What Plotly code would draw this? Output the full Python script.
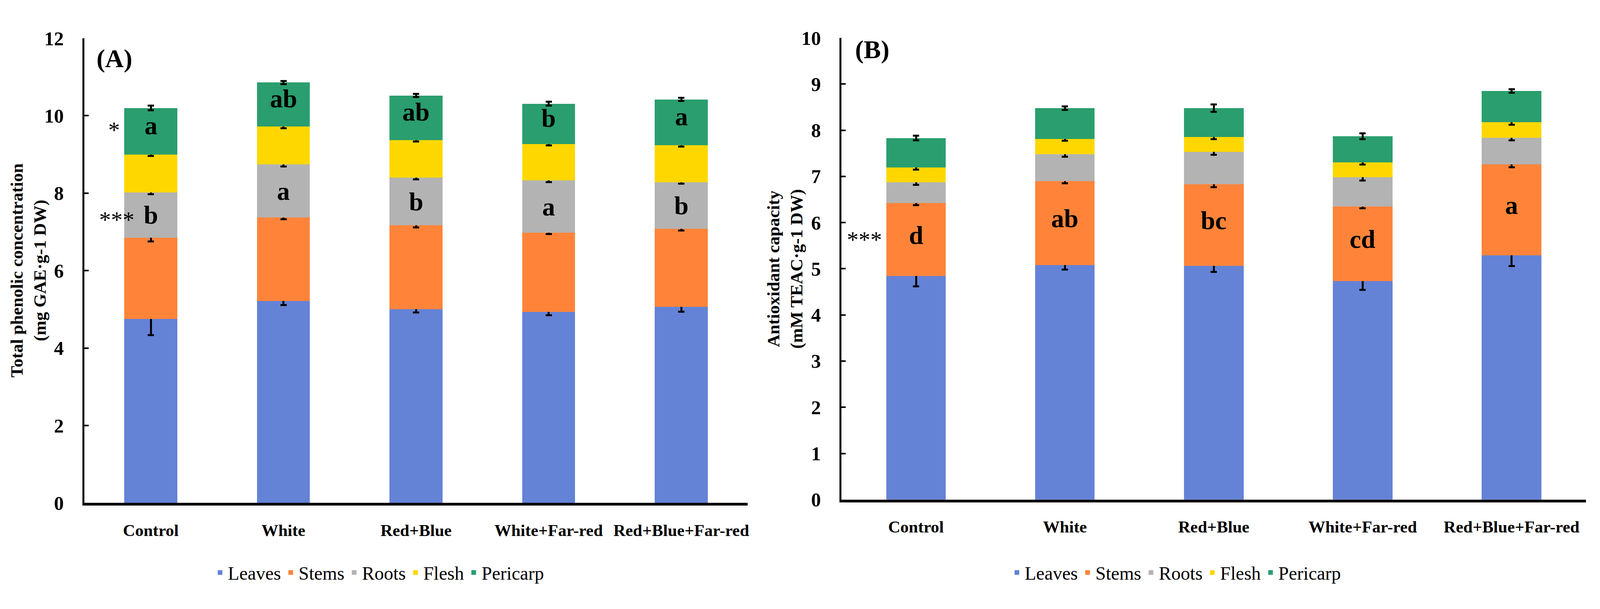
import numpy as np
import plotly.graph_objects as go

# ---- data ----
categories = ["Control", "White", "Red+Blue", "White+Far-red", "Red+Blue+Far-red"]
tissues = ["Leaves", "Stems", "Roots", "Flesh", "Pericarp"]

# (A) total phenolic concentration, mg GAE·g-1 DW (segment heights)
leaves_a = [4.75, 5.22, 5.00, 4.93, 5.06]
stems_a = [2.10, 2.15, 2.17, 2.05, 2.02]
roots_a = [1.17, 1.37, 1.23, 1.35, 1.20]
flesh_a = [0.98, 0.98, 0.97, 0.94, 0.96]
pericarp_a = [1.20, 1.14, 1.15, 1.04, 1.18]

err_leaves_a = [0.42, 0.11, 0.08, 0.08, 0.12]
err_stems_a = [0.10, 0.04, 0.05, 0.04, 0.04]
err_roots_a = [0.05, 0.05, 0.04, 0.04, 0.04]
err_flesh_a = [0.04, 0.04, 0.04, 0.04, 0.04]
err_pericarp_a = [0.06, 0.04, 0.04, 0.05, 0.04]

letters_roots_a = ["b", "a", "b", "a", "b"]
letters_pericarp_a = ["a", "ab", "ab", "b", "a"]

# (B) antioxidant capacity, mM TEAC·g-1 DW
leaves_b = [4.84, 5.08, 5.06, 4.73, 5.29]
stems_b = [1.58, 1.82, 1.77, 1.62, 1.97]
roots_b = [0.45, 0.58, 0.70, 0.63, 0.58]
flesh_b = [0.32, 0.33, 0.32, 0.32, 0.33]
pericarp_b = [0.64, 0.67, 0.63, 0.57, 0.68]

err_leaves_b = [0.22, 0.10, 0.13, 0.19, 0.23]
err_stems_b = [0.04, 0.05, 0.06, 0.04, 0.06]
err_roots_b = [0.05, 0.05, 0.06, 0.07, 0.06]
err_flesh_b = [0.04, 0.04, 0.04, 0.04, 0.05]
err_pericarp_b = [0.05, 0.04, 0.08, 0.06, 0.04]

letters_stems_b = ["d", "ab", "bc", "cd", "a"]

COLORS = ["#6482D6", "#FF8439", "#B3B3B3", "#FFD700", "#2A9E6E"]
SERIF = "Liberation Serif, Times New Roman, serif"

# reference frame used to place things (fractions of the page)
W, H = 4284, 1560

fig = go.Figure()


def add_stack(values, errors, xa, ya, legend):
    for name, vals, errs, color in zip(tissues, values, errors, COLORS):
        fig.add_trace(go.Bar(
            x=categories, y=vals, name=name, xaxis=xa, yaxis=ya, legend=legend,
            marker=dict(color=color, line=dict(width=0)),
            error_y=dict(type="data", array=errs, visible=True,
                         color="black", thickness=5, width=8),
        ))


add_stack([leaves_a, stems_a, roots_a, flesh_a, pericarp_a],
          [err_leaves_a, err_stems_a, err_roots_a, err_flesh_a, err_pericarp_a],
          "x", "y", "legend")
add_stack([leaves_b, stems_b, roots_b, flesh_b, pericarp_b],
          [err_leaves_b, err_stems_b, err_roots_b, err_flesh_b, err_pericarp_b],
          "x2", "y2", "legend2")

# segment midpoints for the significance letters
cum_a = np.cumsum([leaves_a, stems_a, roots_a, flesh_a, pericarp_a], axis=0)
cum_b = np.cumsum([leaves_b, stems_b, roots_b, flesh_b, pericarp_b], axis=0)
mid_roots_a = cum_a[2] - np.array(roots_a) / 2
mid_peri_a = cum_a[4] - np.array(pericarp_a) / 2 + 0.15
mid_stems_b = cum_b[1] - np.array(stems_b) / 2 + 0.1

LETTER_FONT = dict(family=SERIF, size=66, color="black", weight="bold")
STAR_FONT = dict(family=SERIF, size=60, color="black")

for cat, t, y in zip(categories, letters_roots_a, mid_roots_a):
    fig.add_annotation(x=cat, y=y, xref="x", yref="y", text=t, showarrow=False, font=LETTER_FONT)
for cat, t, y in zip(categories, letters_pericarp_a, mid_peri_a):
    fig.add_annotation(x=cat, y=y, xref="x", yref="y", text=t, showarrow=False, font=LETTER_FONT)
for cat, t, y in zip(categories, letters_stems_b, mid_stems_b):
    fig.add_annotation(x=cat, y=y, xref="x2", yref="y2", text=t, showarrow=False, font=LETTER_FONT)

# asterisks left of the Control bar
fig.add_annotation(x=categories[0], y=mid_peri_a[0], xref="x", yref="y", text="*",
                   showarrow=False, xshift=-94, yshift=-12, font=STAR_FONT)
fig.add_annotation(x=categories[0], y=mid_roots_a[0], xref="x", yref="y", text="***",
                   showarrow=False, xshift=-87, yshift=-12, font=STAR_FONT)
fig.add_annotation(x=categories[0], y=mid_stems_b[0], xref="x2", yref="y2", text="***",
                   showarrow=False, xshift=-132, yshift=-12, font=STAR_FONT)

# panel labels and y titles
TITLE_FONT = dict(family=SERIF, size=45, color="black", weight="bold")
PANEL_FONT = dict(family=SERIF, size=66, color="black", weight="bold")
fig.add_annotation(x=249 / W, y=1 - 79 / H, xref="paper", yref="paper", text="(A)",
                   showarrow=False, xanchor="left", font=PANEL_FONT)
fig.add_annotation(x=2290 / W, y=1 - 54 / H, xref="paper", yref="paper", text="(B)",
                   showarrow=False, xanchor="left", font=PANEL_FONT)
fig.add_annotation(x=68 / W, y=1 - 689 / H, xref="paper", yref="paper",
                   text="Total phenolic concentration<br>(mg GAE·g-1 DW)", textangle=-90,
                   showarrow=False, xanchor="center", yanchor="middle", font=TITLE_FONT)
fig.add_annotation(x=2104 / W, y=1 - 684 / H, xref="paper", yref="paper",
                   text="Antioxidant capacity<br>(mM TEAC·g-1 DW)", textangle=-90,
                   showarrow=False, xanchor="center", yanchor="middle", font=TITLE_FONT)

XAXIS = dict(type="category", showline=True, linewidth=7, linecolor="black", ticks="",
             showgrid=False, zeroline=False, ticklabelstandoff=26,
             tickfont=dict(family=SERIF, size=43, color="black", weight="bold"))
YAXIS = dict(showline=True, linewidth=5, linecolor="black", ticks="inside", ticklen=11,
             tickwidth=4, tickcolor="black", showgrid=False, zeroline=False,
             ticklabelstandoff=38,
             tickfont=dict(family=SERIF, size=50, color="black", weight="bold"))

LEGEND = dict(orientation="h", xref="paper", yref="paper", xanchor="center", yanchor="middle",
              traceorder="normal", bgcolor="rgba(0,0,0,0)",
              font=dict(family=SERIF, size=48, color="black"))

fig.update_layout(
    autosize=True, paper_bgcolor="white", plot_bgcolor="white",
    font=dict(family=SERIF, color="black"),
    margin=dict(l=0, r=0, t=0, b=0), barmode="stack", bargap=0.6,
    xaxis=dict(XAXIS, domain=[219 / W, 2003 / W], anchor="y"),
    yaxis=dict(YAXIS, domain=[247 / H, 1495 / H], range=[0, 12], dtick=2, anchor="x"),
    xaxis2=dict(XAXIS, domain=[2256 / W, 4259 / W], anchor="y2"),
    yaxis2=dict(YAXIS, domain=[256 / H, 1496 / H], range=[0, 10], dtick=1, anchor="x2"),
    legend=dict(LEGEND, x=1012 / W, y=60 / H),
    legend2=dict(LEGEND, x=3156 / W, y=60 / H),
)

# size the figure to the browser window so nothing spills past its edges
fig.write_html("out.html", default_width="calc(100vw - 16px)",
               default_height="calc(100vh - 16px)")
